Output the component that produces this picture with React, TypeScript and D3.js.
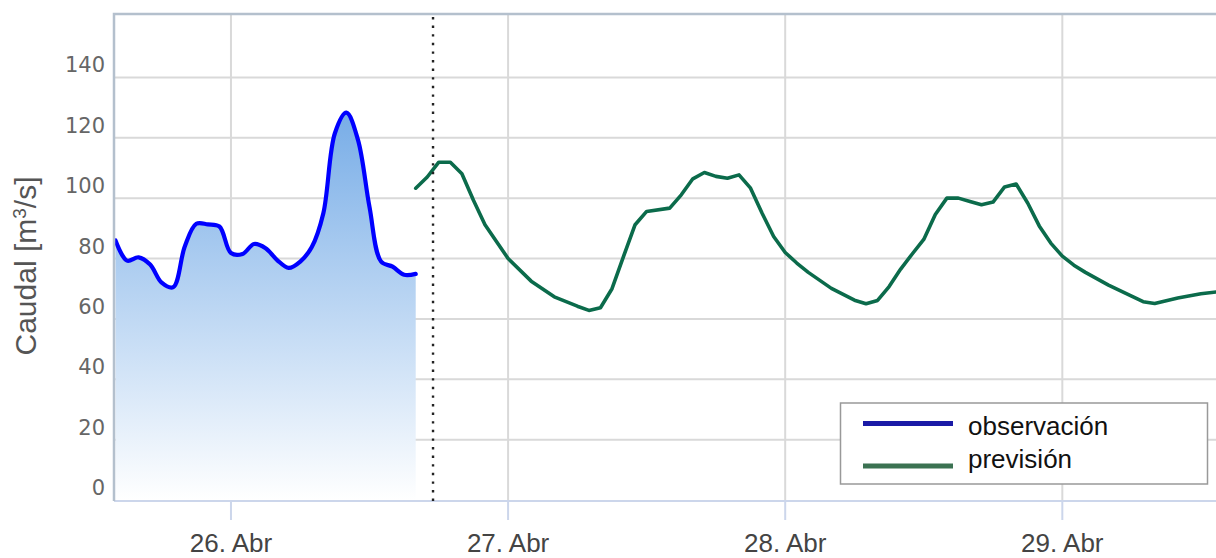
import React from 'react';
import * as d3 from 'd3';

// hours are counted from 26 Abr 00:00
const yTicks = [0, 20, 40, 60, 80, 100, 120, 140];
const dayTicks = [0, 24, 48, 72];
const dayLabels = ['26. Abr', '27. Abr', '28. Abr', '29. Abr'];

const obsHours = [-10, -9, -8, -7, -6, -5, -4, -3, -2, -1, 0, 1, 2, 3, 4, 5, 6, 7, 8, 9, 10, 11, 12, 13, 14, 15, 16];
const obsValues = [86, 79.3, 80.4, 78, 72, 70.5, 84, 91.5, 91.3, 90.6, 81.8, 81.5, 84.8, 83.4, 79.5, 76.9, 79, 83.8, 95, 121.5, 128.3, 119.3, 97, 79, 77.3, 74.6, 74.9];

const fcHours = [16, 17, 18, 19, 20, 21, 22, 24, 26, 28, 30, 31, 32, 33, 34, 35, 36, 38, 39, 40, 41, 42, 43, 44, 45, 46, 47, 48, 49, 50, 52, 54, 55, 56, 57, 58, 59, 60, 61, 62, 63, 64, 65, 66, 67, 68, 69, 70, 71, 72, 73, 74, 76, 78, 79, 80, 82, 84, 86];
const fcValues = [103.3, 107, 111.9, 111.9, 108.1, 99.3, 91.2, 80, 72.5, 67.3, 64.2, 62.8, 63.7, 70, 80.7, 91.2, 95.6, 96.7, 101.1, 106.4, 108.5, 107.2, 106.6, 107.7, 103.3, 95, 87.3, 82, 78.5, 75.4, 70.1, 66.2, 65, 66.1, 70.7, 76.5, 81.5, 86.3, 94.6, 100, 100, 98.9, 97.8, 98.7, 103.7, 104.7, 98.4, 90.8, 85.1, 80.8, 77.8, 75.4, 71.2, 67.5, 65.7, 65.1, 66.9, 68.3, 69.2];

const nowHour = 17.5;
const seriesNames = ['observación', 'previsión'];

export default function App() {
  const width = 1216, height = 558;
  const plot = { left: 114, top: 14, right: 1216, bottom: 500 };

  const x = d3.scaleLinear().domain([-10.13, 85.31]).range([plot.left, plot.right]);
  const y = d3.scaleLinear().domain([0, 161]).range([plot.bottom, plot.top]);

  const obs = obsHours.map((h, i) => [h, obsValues[i]] as [number, number]);
  const fc = fcHours.map((h, i) => [h, fcValues[i]] as [number, number]);

  const obsLine = d3.line<[number, number]>()
    .x(d => x(d[0])).y(d => y(d[1]))
    .curve(d3.curveCatmullRom.alpha(0.5));
  const obsArea = d3.area<[number, number]>()
    .x(d => x(d[0])).y0(y(0)).y1(d => y(d[1]))
    .curve(d3.curveCatmullRom.alpha(0.5));
  const fcLine = d3.line<[number, number]>()
    .x(d => x(d[0])).y(d => y(d[1]));

  const labelFont = 'Liberation Sans, Arial, sans-serif';

  return (
    <div style={{ position: 'absolute', left: 0, top: 0 }}>
      <svg width={width} height={height} style={{ display: 'block', background: '#fff' }}>
        <defs>
          <clipPath id="plotClip">
            <rect x={plot.left} y={plot.top} width={plot.right - plot.left} height={plot.bottom - plot.top + 2} />
          </clipPath>
          <linearGradient id="obsFill" gradientUnits="userSpaceOnUse" x1="0" y1={y(128)} x2="0" y2={y(0)}>
            <stop offset="0" stopColor="#78ade7" />
            <stop offset="1" stopColor="#ffffff" />
          </linearGradient>
        </defs>

        {/* grid */}
        <g stroke="#d9d9d9" strokeWidth={2}>
          {yTicks.filter(t => t > 0).map(t => (
            <line key={t} x1={plot.left} x2={plot.right} y1={y(t)} y2={y(t)} />
          ))}
          {dayTicks.map(t => (
            <line key={t} x1={x(t)} x2={x(t)} y1={plot.top} y2={plot.bottom} />
          ))}
        </g>

        {/* series */}
        <g clipPath="url(#plotClip)">
          <path d={obsArea(obs) || ''} fill="url(#obsFill)" />
          <path d={obsLine(obs) || ''} fill="none" stroke="#0000ff" strokeWidth={4.2} strokeLinejoin="round" strokeLinecap="round" />
          <path d={fcLine(fc) || ''} fill="none" stroke="#0b6b4b" strokeWidth={3.6} strokeLinejoin="round" strokeLinecap="round" />
        </g>

        {/* bottom axis */}
        <line x1={plot.left} x2={plot.right} y1={plot.bottom + 1} y2={plot.bottom + 1} stroke="#ccd6eb" strokeWidth={2} />
        {dayTicks.map(t => (
          <line key={t} x1={x(t)} x2={x(t)} y1={plot.bottom + 1} y2={plot.bottom + 20} stroke="#ccd6eb" strokeWidth={2} />
        ))}
        {dayTicks.map((t, i) => (
          <text key={t} x={x(t)} y={552} textAnchor="middle" fontFamily={labelFont} fontSize={26} fill="#444">
            {dayLabels[i]}
          </text>
        ))}

        {/* plot border top / left */}
        <path d={`M${plot.left},${plot.bottom + 1}V${plot.top}H${plot.right}`} fill="none" stroke="#b4c0cd" strokeWidth={2.5} />

        {/* now line */}
        <line x1={x(nowHour)} x2={x(nowHour)} y1={plot.top + 3} y2={plot.bottom + 1} stroke="#222" strokeWidth={2.4} strokeDasharray="2.4 6.2" />

        {/* y labels */}
        {yTicks.map(t => (
          <text key={t} x={105} y={y(t) - 5} textAnchor="end" fontFamily="DejaVu Sans, sans-serif" fontSize={21} fill="#666">
            {t}
          </text>
        ))}
        <text transform={`translate(36,266) rotate(-90)`} textAnchor="middle" fontFamily={labelFont} fontSize={30} fill="#555">
          Caudal [m<tspan baselineShift="super" fontSize={19}>3</tspan>/s]
        </text>

        {/* legend */}
        <g>
          <rect x={840.5} y={403} width={367} height={81} fill="#fff" stroke="#999" strokeWidth={1.5} />
          <line x1={863} x2={953} y1={423.5} y2={423.5} stroke="#1a1aa6" strokeWidth={5} />
          <line x1={863} x2={953} y1={466} y2={466} stroke="#3b7252" strokeWidth={5} />
          <text x={968} y={435} fontFamily={labelFont} fontSize={26} fill="#111">{seriesNames[0]}</text>
          <text x={968} y={468} fontFamily={labelFont} fontSize={26} fill="#111">{seriesNames[1]}</text>
        </g>
      </svg>
    </div>
  );
}
